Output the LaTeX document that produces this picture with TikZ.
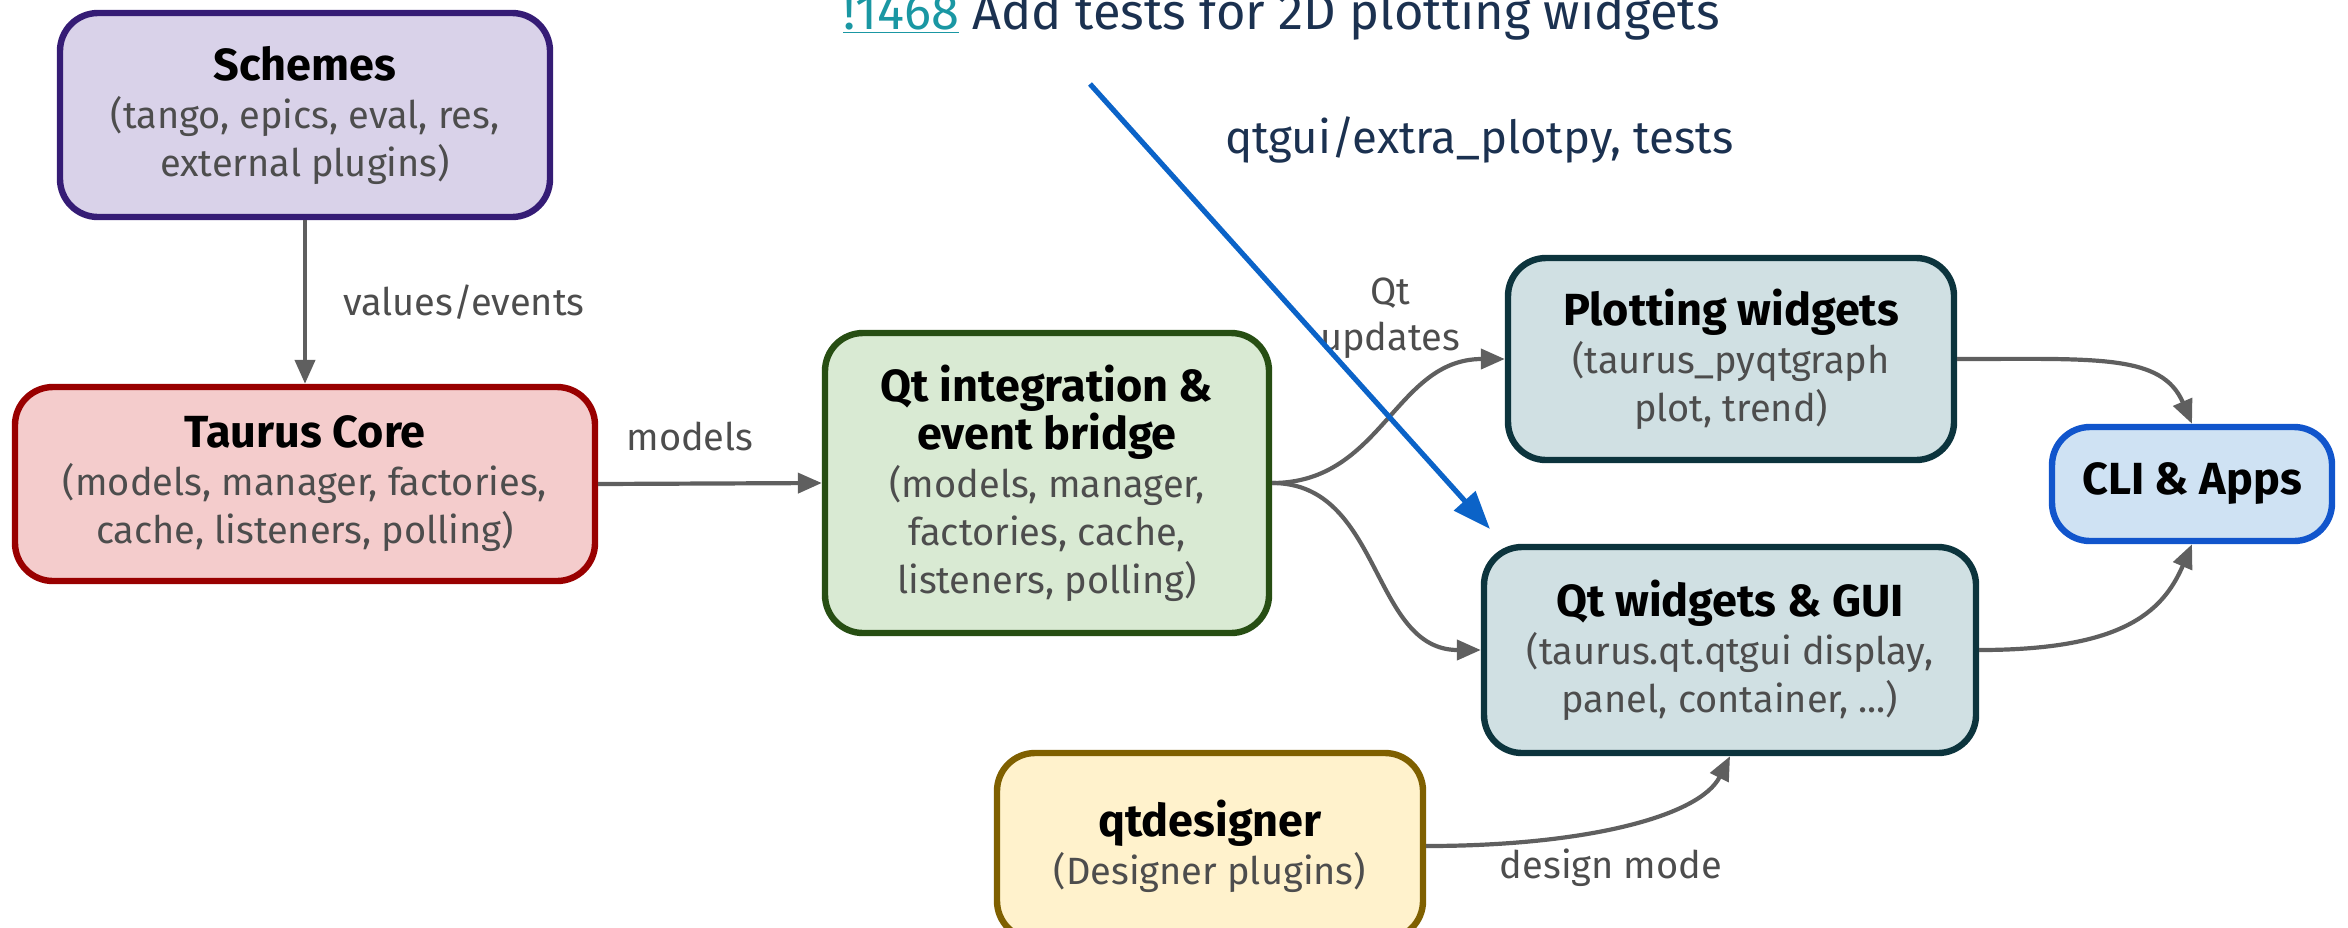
\documentclass[tikz,border=0pt]{standalone}
\usepackage{fontspec}
\setmainfont{Fira Sans}
\usetikzlibrary{arrows.meta}
\definecolor{schemefill}{HTML}{D9D2E9}
\definecolor{schemedraw}{HTML}{351C75}
\definecolor{corefill}{HTML}{F4CCCC}
\definecolor{coredraw}{HTML}{990000}
\definecolor{qtifill}{HTML}{D9EAD3}
\definecolor{qtidraw}{HTML}{274E13}
\definecolor{widfill}{HTML}{D0E0E3}
\definecolor{widdraw}{HTML}{0C343D}
\definecolor{clifill}{HTML}{CFE2F3}
\definecolor{clidraw}{HTML}{1155CC}
\definecolor{desfill}{HTML}{FFF2CC}
\definecolor{desdraw}{HTML}{7F6000}
\definecolor{bodygray}{HTML}{4D4D4D}
\definecolor{arrowgray}{HTML}{5F5F5F}
\definecolor{navytext}{HTML}{1B3150}
\definecolor{linkteal}{HTML}{1A97A3}
\definecolor{blueline}{HTML}{0B63C8}
\newcommand{\ttl}[1]{{\fontsize{22.5}{27}\selectfont\bfseries\color{black}#1}}
\begin{document}
\begin{tikzpicture}[x=0.5pt,y=-0.5pt,
  box/.style={draw, line width=3.2pt, rounded corners=19pt, align=center, inner sep=0pt,
    font=\fontsize{19}{24}\selectfont, text=bodygray},
  arr/.style={draw=arrowgray, line width=2.1pt, -{Triangle[length=12pt,width=10pt]}},
  lbl/.style={font=\fontsize{19}{23}\selectfont, text=bodygray, align=center, inner sep=0pt},
  bluearr/.style={draw=blueline, line width=2.6pt, -{Triangle[length=19pt,width=14pt]}},
  hdr/.style={font=\fontsize{25.3}{30}\selectfont, text=navytext, inner sep=0pt},
  sub/.style={font=\fontsize{22.8}{27}\selectfont, text=navytext, inner sep=0pt}
]
\useasboundingbox (0,0) rectangle (2348,927);
\clip (0,0) rectangle (2348,927);

\node[box, fill=schemefill, draw=schemedraw, minimum width=245pt, minimum height=102pt]
  (schemes) at (305,115) {\ttl{Schemes}\\(tango, epics, eval, res,\\external plugins)};
\node[box, fill=corefill, draw=coredraw, minimum width=290pt, minimum height=97pt]
  (core) at (305,484) {\ttl{Taurus Core}\\(models, manager, factories,\\cache, listeners, polling)};
\node[box, fill=qtifill, draw=qtidraw, minimum width=222pt, minimum height=150pt]
  (qtint) at (1047,483) {\ttl{Qt integration \&}\\\ttl{event bridge}\\(models, manager,\\factories, cache,\\listeners, polling)};
\node[box, fill=widfill, draw=widdraw, minimum width=223pt, minimum height=101pt]
  (plot) at (1731,359) {\ttl{Plotting widgets}\\(taurus\_pyqtgraph\\plot, trend)};
\node[box, fill=widfill, draw=widdraw, minimum width=246pt, minimum height=103pt]
  (qtw) at (1730,650) {\ttl{Qt widgets \& GUI}\\(taurus.qt.qtgui display,\\panel, container, ...)};
\node[box, fill=clifill, draw=clidraw, minimum width=140pt, minimum height=57pt]
  (cli) at (2192,484) {\ttl{CLI \& Apps}};
\node[box, fill=desfill, draw=desdraw, minimum width=213pt, minimum height=93pt]
  (qd) at (1210,846) {\ttl{qtdesigner}\\(Designer plugins)};

\draw[arr] (schemes.south) -- (core.north) node[lbl, midway, anchor=west, xshift=18pt] {values/events};
\draw[arr] (core.east) -- (qtint.west) node[lbl, midway, xshift=-10pt, yshift=23.5pt] {models};
\draw[arr] (qtint.east) .. controls +(110,0) and +(-110,0) .. (plot.west);
\draw[arr] (qtint.east) .. controls +(110,0) and +(-110,0) .. (qtw.west);
\node[lbl] (qtupd) at (1390,318) {Qt\\updates};
\draw[arr] (plot.east) .. controls +(140,0) and +(-30,-70) .. (cli.north);
\draw[arr] (qtw.east) .. controls +(140,0) and +(-30,70) .. (cli.south);
\draw[arr] (qd.east) .. controls +(160,0) and +(-30,60) .. (qtw.south);
\node[lbl] (dm) at (1611,868) {design mode};

\node[hdr, anchor=base west] (title) at (843,29) {\textcolor{linkteal}{\underline{!1468}} Add tests for 2D plotting widgets};
\node[sub, anchor=base west] (subt) at (1225,153) {qtgui/extra\_plotpy, tests};
\coordinate (bstart) at (1090,84);
\coordinate (bend) at (1490,529);
\draw[bluearr] (bstart) -- (bend);
\end{tikzpicture}
\end{document}
